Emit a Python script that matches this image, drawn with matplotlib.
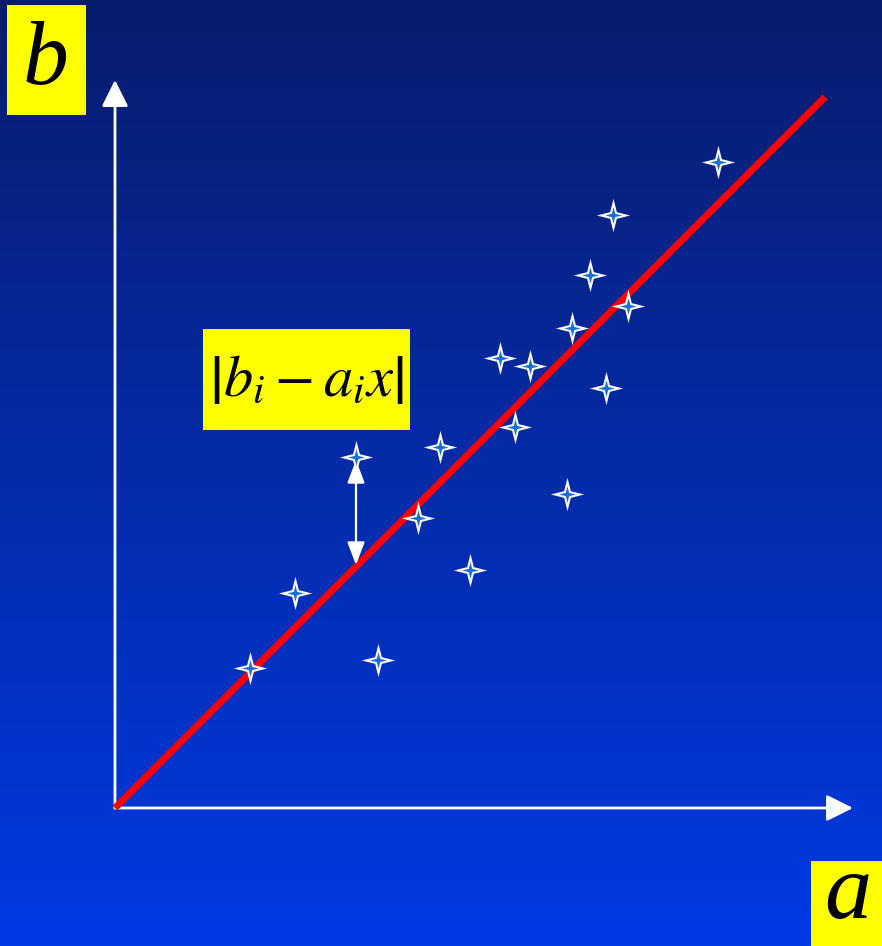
import numpy as np
import matplotlib
matplotlib.use("Agg")
import matplotlib.pyplot as plt
from matplotlib.path import Path
from matplotlib.patches import Rectangle, FancyArrowPatch

# data (origin at the axes corner, units ~ pixels)
pts_x = [603, 498, 475, 513, 457, 385, 415, 491, 400, 325, 241, 452, 303, 355, 180, 263, 135]
pts_y = [646, 593, 533, 502, 480, 450, 442, 420, 381, 361, 351, 314, 290, 238, 215, 148, 140]
line_x = [0, 710]
line_y = [0, 711]
resid_x = 241
resid_top = 348
resid_bot = 243
xmax, ymax = 738, 728

W, H = 882, 946
fig = plt.figure(figsize=(W / 100, H / 100), dpi=100)
ax = fig.add_axes([0, 0, 1, 1])
ax.set_xlim(-115, W - 115)
ax.set_ylim(808 - H, 808)
ax.axis("off")

# background gradient
top = np.array([8, 28, 108]) / 255
bot = np.array([0, 58, 228]) / 255
t = np.linspace(0, 1, 256)[:, None]
grad = top * (1 - t) + bot * t
img = grad[:, None, :].repeat(2, axis=1)
ax.imshow(img, extent=[-115, W - 115, 808 - H, 808], aspect="auto", zorder=0)

# axes arrows
kw = dict(arrowstyle="-|>,head_length=0.9,head_width=0.45", color="white", lw=2,
          mutation_scale=18, shrinkA=0, shrinkB=0, zorder=2)
ax.add_patch(FancyArrowPatch((0, 0), (0, ymax), **kw))
ax.add_patch(FancyArrowPatch((0, 0), (xmax, 0), **kw))

# regression line
ax.plot(line_x, line_y, color="#ff0000", lw=5, solid_capstyle="butt", zorder=3)

# residual arrow
ax.add_patch(FancyArrowPatch((resid_x, resid_bot), (resid_x, resid_top),
                             arrowstyle="<|-|>,head_length=1.0,head_width=0.38",
                             color="white", lw=1.6, mutation_scale=14,
                             shrinkA=0, shrinkB=0, zorder=4))

# star marker
w = 0.2
verts = [(0, 1), (w, w), (1, 0), (w, -w), (0, -1), (-w, -w), (-1, 0), (-w, w), (0, 1)]
codes = [Path.MOVETO] + [Path.LINETO] * 7 + [Path.CLOSEPOLY]
star = Path(verts, codes)
ax.plot(pts_x, pts_y, linestyle="none", marker=star, markersize=24,
        color="white", markeredgewidth=0, zorder=5)
ax.plot(pts_x, pts_y, linestyle="none", marker=star, markersize=12,
        color="#1a6fd6", markeredgewidth=0, zorder=6)

# yellow label boxes
def box(x0, y0, x1, y1):
    # pixel coords -> data coords
    ax.add_patch(Rectangle((x0 - 115, 808 - y1), x1 - x0, y1 - y0,
                           facecolor="#ffff00", edgecolor="none", zorder=7))

box(7, 5, 86, 115)
box(811, 861, 882, 946)
box(203, 329, 410, 430)

serif = ["Liberation Serif", "DejaVu Serif"]
ax.text(46 - 115, 808 - 62, "b", fontsize=66, style="italic", family=serif,
        ha="center", va="center", zorder=8)
ax.text(848 - 115, 808 - 895, "a", fontsize=68, style="italic", family=serif,
        ha="center", va="center", zorder=8)

plt.rcParams["mathtext.fontset"] = "stix"
ax.text(306 - 115, 808 - 380, r"$\left|b_i - a_i x\right|$", fontsize=42,
        ha="center", va="center", zorder=8)

fig.savefig("out.png", dpi=100)
